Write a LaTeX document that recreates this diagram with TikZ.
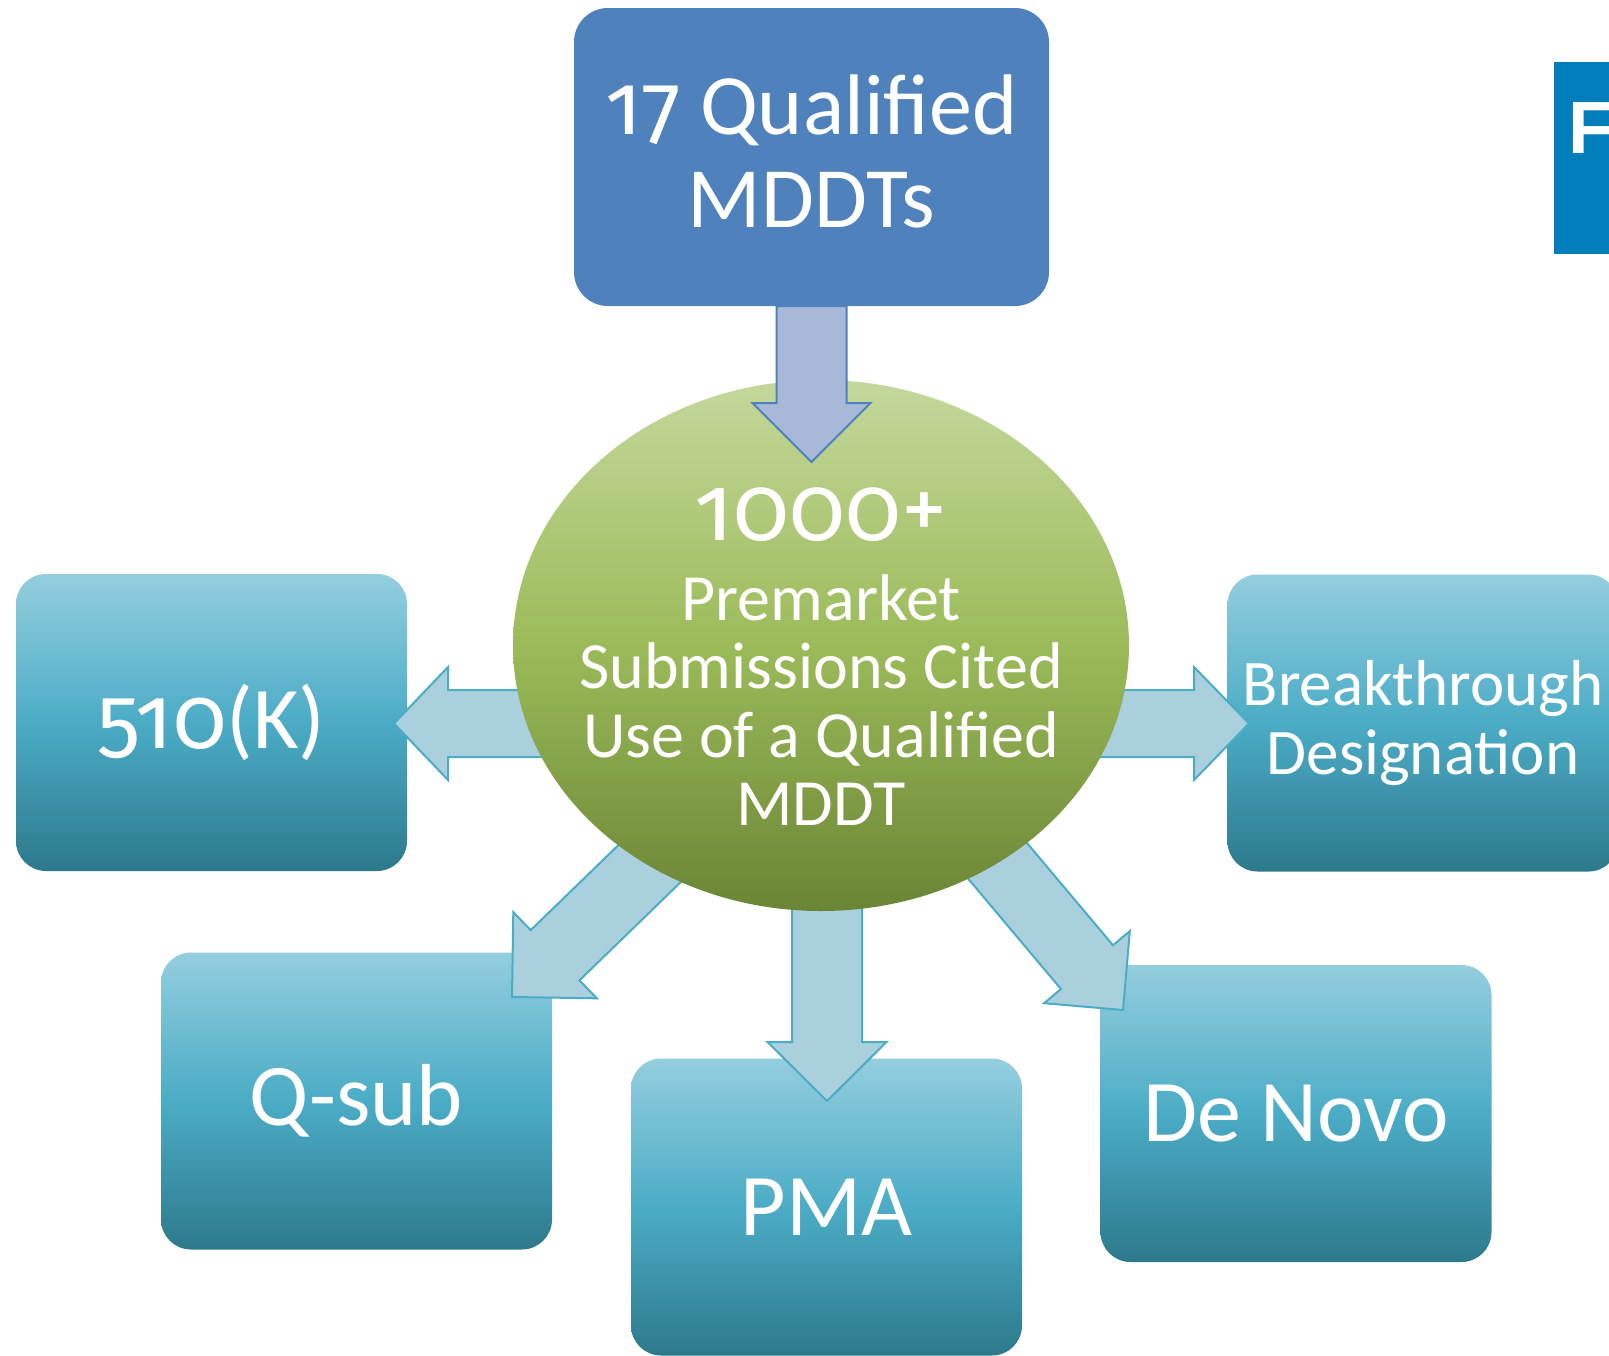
\documentclass[tikz,border=0pt]{standalone}
\usepackage{fontspec}
\setmainfont{Carlito}
\newfontfamily\oldnum{Fira Sans}[Numbers=OldStyle]
\newfontfamily\fdafont{Liberation Sans}
\usetikzlibrary{shapes.geometric,calc}

\definecolor{mddtblue}{HTML}{4F81BD}
\definecolor{fdablue}{HTML}{007DBB}
\definecolor{boxtop}{HTML}{94CEDE}
\definecolor{boxmid}{HTML}{4BACC6}
\definecolor{boxbot}{HTML}{2D798C}
\definecolor{hubtop}{HTML}{C4D89C}
\definecolor{hubmid}{HTML}{9BBB59}
\definecolor{hubbot}{HTML}{6A8535}
\definecolor{arrowfill}{HTML}{AACFDD}
\definecolor{toparrowfill}{HTML}{A8B8D8}

\tikzset{
  pathbox/.style={
    rectangle, rounded corners=30pt, inner sep=0pt,
    minimum width=391pt, minimum height=297pt,
    text=white, align=center,
    font=\fontsize{88}{90}\selectfont,
    top color=boxtop, bottom color=boxbot, middle color=boxmid
  },
  mddtbox/.style={
    rectangle, rounded corners=34pt, inner sep=0pt,
    minimum width=475pt, minimum height=298pt,
    fill=mddtblue, text=white, align=center, text depth=12pt,
    font=\fontsize{86}{93}\selectfont
  },
  hub/.style={
    ellipse, inner sep=0pt,
    minimum width=616pt, minimum height=531pt,
    top color=hubtop, bottom color=hubbot, middle color=hubmid
  },
  hubtext/.style={
    inner sep=0pt, text=white, align=center, text depth=0pt,
    font=\fontsize{66}{68.5}\selectfont
  },
  fdabox/.style={
    rectangle, inner sep=0pt, fill=fdablue,
    minimum width=150pt, minimum height=192pt
  },
  flowarrow/.style={fill=arrowfill, draw=boxmid, line width=2pt, line join=miter},
  toparrow/.style={fill=toparrowfill, draw=mddtblue, line width=2pt, line join=miter}
}

% block arrow: style, tail, tip, shaft half width, head half width, head length
\newcommand\blockarrow[6]{%
  \coordinate (#3-base) at ($(#3)!#6!(#2)$);
  \draw[#1] ($(#2)!#4!90:(#3)$) -- ($(#3-base)!#4!90:(#3)$)
    -- ($(#3-base)!#5!90:(#3)$) -- (#3)
    -- ($(#3-base)!#5!-90:(#3)$) -- ($(#3-base)!#4!-90:(#3)$)
    -- ($(#2)!#4!-90:(#3)$) -- cycle;}

\begin{document}
\begin{tikzpicture}[x=1pt,y=-1pt]
  \useasboundingbox (0,0) rectangle (1609,1355);

  % Qualified tools
  \node (mddt) [mddtbox] at (811.5,157) {{\oldnum 17} Qualified\\MDDTs};

  % Submission types
  \node (k510) [pathbox] at (211.5,722.5) {{\oldnum 510}(K)};
  \node (qsub) [pathbox] at (356.5,1101) {Q-sub};
  \node (pma) [pathbox] at (826.5,1207) {PMA};
  \node (denovo) [pathbox] at (1296,1113.5) {De Novo};
  \node (breakthrough) [pathbox, font=\fontsize{65}{69}\selectfont]
    at (1423,723) {Breakthrough\\Designation};

  % cut-off box at the right border
  \node (fda) [fdabox, anchor=north west] at (1554,62) {};
  \node (fdatext) [anchor=base west, inner sep=0pt, text=white,
    font=\fdafont\bfseries\fontsize{74}{74}\selectfont]
    at ($(fda.north west)+(14,91)$) {Fr};

  % arrows out of the hub
  \coordinate (hub-k) at (560,723.5);
  \coordinate (k510-in) at (394,723.5);
  \coordinate (hub-b) at (1090,723.5);
  \coordinate (breakthrough-in) at (1249,723.5);
  \coordinate (hub-q) at (677,837);
  \coordinate (qsub-in) at (512,997);
  \coordinate (hub-p) at (827,880);
  \coordinate (pma-in) at (827,1101);
  \coordinate (hub-d) at (975,834);
  \coordinate (denovo-in) at (1123,1010);

  \blockarrow{flowarrow}{hub-k}{k510-in}{33.5pt}{56.5pt}{54pt}
  \blockarrow{flowarrow}{hub-b}{breakthrough-in}{33.5pt}{56.5pt}{55pt}
  \blockarrow{flowarrow}{hub-q}{qsub-in}{35pt}{60pt}{60pt}
  \blockarrow{flowarrow}{hub-p}{pma-in}{35pt}{59.5pt}{59pt}
  \blockarrow{flowarrow}{hub-d}{denovo-in}{34pt}{56pt}{56pt}

  % Hub
  \node (hub) [hub] at (821,645.5) {};
  \node (hubtext) [hubtext, anchor=south] at (821,826)
    {{\oldnum\fontsize{92}{92}\selectfont 1000+}\\[11pt]Premarket\\Submissions Cited\\Use of a Qualified\\MDDT};

  % arrow into the hub
  \coordinate (mddt-out) at (mddt.south);
  \coordinate (hub-in) at (811.5,462);
  \blockarrow{toparrow}{mddt-out}{hub-in}{35pt}{59pt}{59pt}
\end{tikzpicture}
\end{document}
